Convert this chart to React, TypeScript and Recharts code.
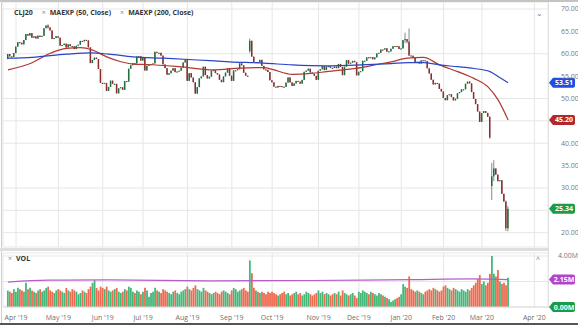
import { ComposedChart, Bar, Line, XAxis, YAxis, CartesianGrid, ReferenceLine, Cell } from 'recharts';

// Daily closes, Mar 26 2019 .. Mar 19 2020 (one per trading day)
const CLOSE = [
  // Mar '19
  59.94, 59.41, 59.30, 60.14,
  // Apr '19
  61.59, 62.58, 62.46, 62.10, 63.08, 64.40, 64.05, 64.61, 63.58, 63.89, 63.40, 64.05, 63.76, 64.00, 65.70, 66.30, 65.89, 65.21, 63.30, 63.50, 63.91,
  // May '19
  63.60, 61.81, 61.94, 62.25, 61.40, 62.12, 61.70, 61.66, 61.04, 61.78, 62.02, 62.87, 62.76, 63.10, 62.99, 61.42, 57.91, 58.63, 59.14, 58.81, 56.59, 53.50,
  // Jun '19
  53.25, 53.48, 51.68, 52.59, 53.99, 53.26, 53.27, 51.14, 52.28, 52.51, 51.93, 53.90, 53.76, 56.65, 57.43, 57.90, 57.83, 59.38, 59.43, 58.47,
  // Jul '19
  59.09, 56.25, 57.34, 57.51, 57.66, 57.83, 60.43, 60.20, 60.21, 59.58, 57.62, 56.78, 55.30, 55.63, 56.22, 56.77, 55.88, 56.02, 56.20, 56.87, 58.05, 58.58,
  // Aug '19
  53.95, 55.66, 54.69, 53.63, 51.09, 52.54, 54.50, 54.93, 57.10, 55.23, 54.47, 54.87, 56.21, 56.34, 55.68, 55.35, 54.17, 53.64, 54.93, 55.78, 56.71, 55.10,
  // Sep '19
  53.94, 56.26, 56.30, 56.52, 57.85, 57.40, 55.75, 55.09, 54.85, 62.90, 59.34, 58.11, 58.13, 58.09, 58.64, 57.29, 56.49, 56.41, 55.91, 54.07,
  // Oct '19
  53.62, 52.64, 52.45, 52.81, 52.75, 52.63, 52.59, 53.55, 54.70, 53.59, 52.81, 53.36, 53.93, 53.78, 53.31, 54.16, 55.97, 56.23, 56.66, 55.81, 55.54, 55.06, 54.18,
  // Nov '19
  56.20, 56.54, 57.23, 56.35, 57.15, 57.24, 56.86, 56.80, 57.12, 56.77, 57.72, 57.05, 55.21, 57.11, 58.58, 57.77, 58.01, 58.41, 58.11, 55.17,
  // Dec '19
  55.96, 56.10, 58.43, 58.43, 59.20, 59.02, 59.24, 58.76, 59.18, 60.07, 60.21, 60.94, 60.93, 61.22, 60.44, 60.52, 61.11, 61.68, 61.72, 61.68, 61.06,
  // Jan '20
  61.18, 63.05, 63.27, 62.70, 59.61, 59.56, 59.04, 58.08, 58.23, 57.81, 58.52, 58.54, 58.38, 56.74, 55.59, 54.19, 53.14, 53.48, 53.33, 52.14, 51.56,
  // Feb '20
  50.11, 49.61, 50.75, 50.95, 50.32, 49.57, 49.94, 51.17, 51.42, 52.05, 52.05, 53.29, 53.78, 53.38, 51.43, 49.90, 48.73, 47.09, 44.76,
  // Mar '20
  46.75, 47.18, 46.78, 45.90, 41.28, 32.60, 34.36, 32.98, 31.50, 31.73, 28.70, 26.95, 21.00, 25.34,
];

// opens that gap away from the previous close
const OPEN_FIX: Record<number, number> = { 0: 58.8, 120: 60.6, 240: 30.4 };

// visible wicks [low, high]
const WICKS: Record<number, [number, number]> = {
  20: [65.6, 66.6],
  120: [60.2, 63.4],
  197: [62.4, 64.7],
  198: [62.3, 63.3],
  199: [59.5, 65.65],
  239: [41.0, 46.0],
  240: [27.3, 35.6],
  241: [31.5, 36.2],
  247: [20.4, 27.2],
  248: [20.3, 26.0],
};

// volume, millions
const VOLUME = [
  1.3, 1.2, 1.1, 1.4,
  1.2, 1.5, 1.4, 1.3, 1.2, 1.9, 1.4, 1.5, 1.3, 1.2, 1.1, 1.3, 1.4, 1.2, 1.3, 1.5, 1.6, 1.3, 1.2, 1.1, 1.3,
  1.4, 1.3, 1.2, 1.1, 1.5, 1.3, 1.2, 1.4, 1.3, 1.2, 1.0, 1.1, 1.3, 1.2, 1.1, 1.4, 1.6, 1.9, 2.1, 1.5, 1.3, 1.6,
  1.5, 1.4, 1.6, 1.3, 1.2, 1.3, 1.4, 1.5, 1.2, 1.1, 1.2, 1.4, 1.3, 1.6, 1.5, 1.2, 1.1, 1.3, 1.2, 1.0,
  1.2, 1.5, 1.3, 0.8, 1.1, 1.2, 1.5, 1.3, 1.2, 1.1, 1.4, 1.3, 1.2, 1.1, 1.0, 1.2, 1.3, 1.1, 1.0, 1.2, 1.3, 1.4,
  1.6, 1.4, 1.3, 1.5, 1.7, 1.4, 1.3, 1.2, 1.5, 1.3, 1.2, 1.1, 1.0, 1.1, 1.2, 1.1, 1.0, 1.2, 1.3, 1.2, 1.1, 1.0,
  1.3, 1.5, 1.4, 1.2, 1.3, 1.4, 1.5, 1.3, 1.2, 3.65, 2.65, 1.5, 1.3, 1.2, 1.1, 1.2, 1.1, 1.0, 1.2, 1.1,
  1.2, 1.1, 1.0, 0.9, 1.0, 1.1, 1.2, 1.0, 1.1, 0.9, 1.0, 1.1, 1.2, 1.0, 1.1, 0.9, 1.0, 1.2, 1.1, 1.0, 0.9, 1.0, 1.1,
  1.3, 1.1, 1.2, 1.0, 1.1, 1.0, 0.9, 1.0, 1.1, 1.0, 1.2, 0.9, 1.3, 1.1, 1.0, 0.9, 1.0, 1.1, 0.9, 0.7,
  1.2, 1.1, 1.3, 1.2, 1.1, 1.0, 1.2, 1.1, 1.0, 0.9, 1.1, 1.0, 0.9, 0.8, 0.7, 0.6, 0.4, 0.5, 0.6, 0.7, 0.8,
  1.0, 1.8, 1.6, 1.5, 2.4, 1.4, 1.3, 1.2, 1.3, 1.2, 1.1, 1.0, 1.2, 1.3, 1.4, 1.3, 1.5, 1.4, 1.3, 1.2, 1.3,
  1.6, 1.7, 1.5, 1.4, 1.3, 1.5, 1.4, 1.3, 1.2, 1.4, 1.3, 1.2, 1.4, 1.3, 1.5, 1.7, 1.9, 2.2, 2.5,
  1.8, 2.0, 1.7, 1.9, 2.6, 4.0, 2.6, 2.4, 2.9, 2.0, 1.8, 1.9, 1.7, 2.3,
];

// MAEXP(50)
const MA50_AT = [0, 12, 21, 29, 36, 42, 49, 56, 62, 69, 85, 102, 115, 127, 131, 141, 150, 158, 166, 175, 183, 190, 198, 206, 214, 223, 231, 238, 243, 248];
const MA50 = [56.4, 58.0, 60.1, 61.2, 61.35, 60.8, 59.3, 58.2, 57.7, 57.6, 57.1, 56.4, 56.8, 56.9, 56.5, 55.4, 55.6, 56.0, 56.4, 56.9, 57.6, 58.2, 59.0, 59.2, 57.5, 56.0, 54.5, 52.6, 49.7, 45.2];

// MAEXP(200)
const MA200_AT = [0, 12, 29, 41, 50, 62, 77, 94, 110, 127, 141, 158, 175, 190, 198, 206, 214, 223, 231, 239, 243, 248];
const MA200 = [59.0, 59.2, 59.9, 60.2, 59.9, 59.3, 59.0, 58.6, 58.2, 57.9, 57.5, 57.3, 57.5, 57.8, 58.0, 58.0, 57.5, 57.1, 56.7, 56.0, 54.9, 53.51];

// volume average line
const VMA_AT = [0, 20, 50, 100, 150, 200, 230, 248];
const VMA = [1.95, 2.1, 2.12, 2.05, 2.08, 2.15, 2.2, 2.15];

const MONTH_IDX = [4, 25, 47, 67, 89, 111, 131, 154, 174, 195, 216, 235, 261];
const MONTH_LABELS = ["Apr '19", "May '19", "Jun '19", "Jul '19", "Aug '19", "Sep '19", "Oct '19", "Nov '19", "Dec '19", "Jan '20", "Feb '20", "Mar '20", "Apr '20"];

const PRICE_TICKS = [20, 25, 30, 35, 40, 45, 50, 55, 60, 65, 70];
// tick labels hidden behind the last-value badges
const PRICE_HIDDEN = [25, 45];

const X_DOMAIN = [-2.45, 267.76];
const FONT = '"Open Sans", "Noto Sans", sans-serif';

const rows: any[] = CLOSE.map((c, i) => {
  const o = OPEN_FIX[i] ?? (i > 0 ? CLOSE[i - 1] : c);
  const w = WICKS[i];
  const hi = Math.max(o, c, w ? w[1] : -Infinity);
  const lo = Math.min(o, c, w ? w[0] : Infinity);
  return { i, open: o, close: c, range: [lo, hi], vol: VOLUME[i], up: c >= o };
});
MA50_AT.forEach((idx, k) => (rows[idx].ma50 = MA50[k]));
MA200_AT.forEach((idx, k) => (rows[idx].ma200 = MA200[k]));
VMA_AT.forEach((idx, k) => (rows[idx].vma = VMA[k]));

function Candle(props: any) {
  const { x, y, width, height, payload } = props;
  if (x == null || y == null) return null;
  const [lo, hi] = payload.range;
  const span = hi - lo;
  const ppu = span > 0 ? height / span : 0;
  const top = y + (hi - Math.max(payload.open, payload.close)) * ppu;
  const bh = Math.max(1, Math.abs(payload.open - payload.close) * ppu);
  const cx = x + width / 2;
  const color = payload.up ? '#1f6e3d' : '#8e2b2b';
  return (
    <g>
      <line x1={cx} x2={cx} y1={y} y2={y + Math.max(height, 1)} stroke="#555" strokeWidth={0.7} />
      <rect x={x} y={top} width={width} height={bh} fill={color} />
    </g>
  );
}

function Badge(props: any) {
  const { viewBox, text, color } = props;
  const bx = viewBox.x + viewBox.width + 1;
  const y = viewBox.y;
  const w = 26;
  const h = 10;
  const d = `M${bx},${y} L${bx + 4},${y - h / 2} L${bx + w - 2},${y - h / 2} Q${bx + w},${y - h / 2} ${bx + w},${y - h / 2 + 2} L${bx + w},${y + h / 2 - 2} Q${bx + w},${y + h / 2} ${bx + w - 2},${y + h / 2} L${bx + 4},${y + h / 2} Z`;
  return (
    <g>
      <path d={d} fill={color} />
      <text x={bx + 4 + (w - 4) / 2} y={y + 2.5} textAnchor="middle" fontSize={7} fontWeight={700} fill="#fff" fontFamily={FONT}>
        {text}
      </text>
    </g>
  );
}

const monthLabel = (v: number) => MONTH_LABELS[MONTH_IDX.indexOf(v)] ?? '';

export default function App() {
  return (
    <div style={{ position: 'relative', width: 578, height: 325, background: '#fff', overflow: 'hidden', fontFamily: FONT }}>
      <style>{'body{margin:0}'}</style>

      <div style={{ position: 'absolute', left: 0, top: 0, width: 578, height: 222 }}>
        <ComposedChart width={578} height={248} data={rows} margin={{ top: 2, right: 0, bottom: 1, left: 3 }}>
          <CartesianGrid stroke="#e6e6e6" strokeWidth={1} />
          <XAxis dataKey="i" type="number" domain={X_DOMAIN} ticks={MONTH_IDX} hide allowDataOverflow />
          <YAxis
            orientation="right"
            width={30}
            domain={[16.8, 71.565]}
            ticks={PRICE_TICKS}
            tickFormatter={(v: number) => (PRICE_HIDDEN.includes(v) ? '' : v.toFixed(2))}
            tick={{ fontSize: 7, fill: '#7a7a7a', fontFamily: FONT }}
            tickLine={false}
            axisLine={false}
            tickMargin={7}
            allowDataOverflow
          />
          <Bar dataKey="range" barSize={1.5} shape={<Candle />} isAnimationActive={false} />
          <Line dataKey="ma50" type="monotone" stroke="#ad3a33" strokeWidth={1.2} dot={false} connectNulls isAnimationActive={false} />
          <Line dataKey="ma200" type="monotone" stroke="#2a45c6" strokeWidth={1.2} dot={false} connectNulls isAnimationActive={false} />
          <ReferenceLine y={53.51} stroke="none" label={<Badge text="53.51" color="#1d4fe0" />} />
          <ReferenceLine y={45.2} stroke="none" label={<Badge text="45.20" color="#b3262c" />} />
          <ReferenceLine y={25.34} stroke="none" label={<Badge text="25.34" color="#1a9c4a" />} />
        </ComposedChart>
      </div>

      <div style={{ position: 'absolute', left: 0, top: 0, width: 578, height: 2, background: '#c4c4c4' }} />
      <div style={{ position: 'absolute', left: 1, top: 0, width: 1, height: 325, background: '#cfcfcf' }} />
      <div style={{ position: 'absolute', left: 548, top: 2, width: 1, height: 306, background: '#e2e2e2' }} />
      <div style={{ position: 'absolute', left: 0, top: 248, width: 549, height: 3, background: '#dedede' }} />
      <div style={{ position: 'absolute', left: 0, top: 323, width: 578, height: 2, background: '#555' }} />

      <div style={{ position: 'absolute', left: 0, top: 251 }}>
        <ComposedChart width={578} height={72} data={rows} margin={{ top: 2, right: 0, bottom: 0, left: 3 }}>
          <CartesianGrid stroke="#e6e6e6" strokeWidth={1} />
          <XAxis
            dataKey="i"
            type="number"
            domain={X_DOMAIN}
            ticks={MONTH_IDX}
            tickFormatter={monthLabel}
            tick={{ fontSize: 7, fill: '#6f6f6f', fontFamily: FONT }}
            tickLine={false}
            axisLine={{ stroke: '#dcdcdc' }}
            height={16}
            allowDataOverflow
          />
          <YAxis
            orientation="right"
            width={30}
            domain={[0, 4.235]}
            ticks={[0, 2, 4]}
            tickFormatter={(v: number) => (v === 4 ? '4.00M' : '')}
            tick={{ fontSize: 7, fill: '#7a7a7a', fontFamily: FONT }}
            tickLine={false}
            axisLine={false}
            tickMargin={4}
            allowDataOverflow
          />
          <Bar dataKey="vol" barSize={1.8} isAnimationActive={false}>
            {rows.map((r) => (
              <Cell key={r.i} fill={r.up ? '#43b878' : '#ee6a50'} />
            ))}
          </Bar>
          <Line dataKey="vma" type="monotone" stroke="#b45fc9" strokeWidth={1.2} dot={false} connectNulls isAnimationActive={false} />
          <ReferenceLine y={2.15} stroke="none" label={<Badge text="2.15M" color="#b045c8" />} />
          <ReferenceLine y={0} stroke="none" label={<Badge text="0.00M" color="#1a9c4a" />} />
        </ComposedChart>
      </div>

      <div style={{ position: 'absolute', left: 14, top: 8, fontSize: 7, color: '#333', fontWeight: 700, whiteSpace: 'nowrap', lineHeight: '10px' }}>
        CLJ20
        <span style={{ color: '#888', fontWeight: 400, marginLeft: 9 }}>×</span>
        <span style={{ marginLeft: 4 }}>MAEXP (50, Close)</span>
        <span style={{ color: '#888', fontWeight: 400, marginLeft: 9 }}>×</span>
        <span style={{ marginLeft: 4 }}>MAEXP (200, Close)</span>
      </div>
      <div style={{ position: 'absolute', left: 536, top: 7, fontSize: 8, color: '#777' }}>⌄</div>
      <div style={{ position: 'absolute', left: 8, top: 254, fontSize: 7, color: '#333', fontWeight: 700, lineHeight: '10px' }}>
        <span style={{ color: '#888', fontWeight: 400, marginRight: 4 }}>×</span>VOL
      </div>
      <div style={{ position: 'absolute', left: 536, top: 255, fontSize: 7, color: '#777' }}>^</div>
    </div>
  );
}
